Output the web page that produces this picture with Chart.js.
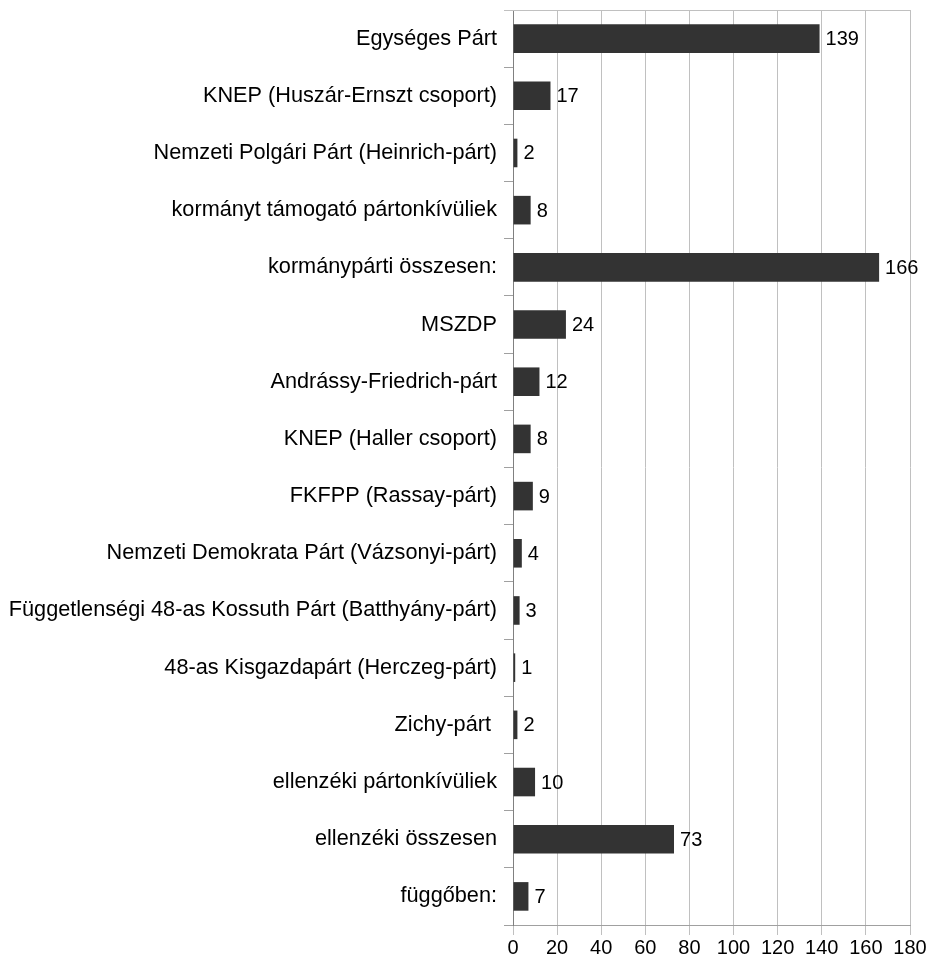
<!DOCTYPE html>
<html><head><meta charset="utf-8">
<script src="https://cdn.jsdelivr.net/npm/chart.js@4"></script>
<style>html,body{margin:0;padding:0;background:#fff}#c{display:block}</style>
</head><body>
<div style="width:931px;height:966px"><canvas id="c" width="931" height="966"></canvas></div>
<script>
const categories = ["Egységes Párt","KNEP (Huszár-Ernszt csoport)","Nemzeti Polgári Párt (Heinrich-párt)","kormányt támogató pártonkívüliek","kormánypárti összesen:","MSZDP","Andrássy-Friedrich-párt","KNEP (Haller csoport)","FKFPP (Rassay-párt)","Nemzeti Demokrata Párt (Vázsonyi-párt)","Függetlenségi 48-as Kossuth Párt (Batthyány-párt)","48-as Kisgazdapárt (Herczeg-párt)","Zichy-párt ","ellenzéki pártonkívüliek","ellenzéki összesen","függőben:"];
const seats = [139,17,2,8,166,24,12,8,9,4,3,1,2,10,73,7];
const xTicks = [0,20,40,60,80,100,120,140,160,180];

const FONT = "'Liberation Sans', Arial, sans-serif";
const labelPlugin = {
  id: 'vals',
  afterDatasetsDraw(chart) {
    const ctx = chart.ctx;
    const meta = chart.getDatasetMeta(0);
    ctx.save();
    ctx.font = "20px " + FONT;
    ctx.fillStyle = "#000";
    ctx.textAlign = "left";
    ctx.textBaseline = "middle";
    meta.data.forEach((bar, i) => {
      ctx.fillText(String(seats[i]), bar.x + 6, bar.y + 1);
    });
    ctx.restore();
  },
  beforeDatasetsDraw(chart) {
    const {ctx, chartArea} = chart;
    ctx.save();
    ctx.strokeStyle = "#c0c0c0";
    ctx.lineWidth = 1;
    ctx.beginPath();
    ctx.moveTo(chartArea.left - 9, chartArea.top + 0.5);
    ctx.lineTo(chartArea.right, chartArea.top + 0.5);
    ctx.stroke();
    ctx.restore();
  }
};

new Chart(document.getElementById('c'), {
  type: 'bar',
  data: { labels: categories, datasets: [{ data: seats, backgroundColor: '#333333', barPercentage: 0.5, categoryPercentage: 1.0 }] },
  options: {
    indexAxis: 'y',
    responsive: false,
    animation: false,
    layout: { padding: { top: 10, right: 21, left: 0, bottom: 0 } },
    plugins: { legend: { display: false }, tooltip: { enabled: false } },
    scales: {
      x: {
        min: 0, max: 180,
        afterBuildTicks(s) { s.ticks = xTicks.map(v => ({ value: v })); },
        afterFit(s) { s.height = 41; },
        grid: { color: '#c0c0c0', tickLength: 10, lineWidth: 1 },
        border: { color: '#a0a0a0' },
        ticks: { color: '#000', font: { family: FONT, size: 20 }, padding: 1, maxRotation: 0, autoSkip: false }
      },
      y: {
        afterFit(s) { s.width = 513; s.paddingTop = 0; s.paddingBottom = 0; },
        grid: { offset: true, drawOnChartArea: false, color: '#a0a0a0', tickLength: 9 },
        border: { color: '#808080' },
        ticks: { color: '#000', font: { family: FONT, size: 21.7 }, padding: 7, autoSkip: false }
      }
    }
  },
  plugins: [labelPlugin]
});
</script>
</body></html>
